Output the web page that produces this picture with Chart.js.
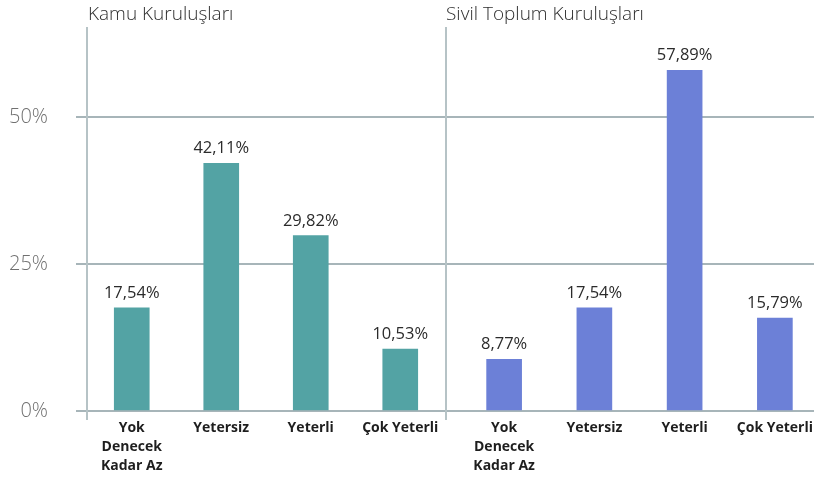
<!DOCTYPE html>
<html>
<head>
<meta charset="utf-8">
<script src="https://cdn.jsdelivr.net/npm/chart.js@4"></script>
<style>
html, body { margin: 0; padding: 0; width: 814px; height: 481px; overflow: hidden; background: #fff; }
#kamu { position: absolute; left: 0; top: 0; }
#stk { position: absolute; left: 445px; top: 0; }
</style>
</head>
<body>
<canvas id="kamu" width="445" height="481"></canvas>
<canvas id="stk" width="375" height="481"></canvas>
<script>
/****************** DATA **********************/

var categories = [["Yok", "Denecek", "Kadar Az"], "Yetersiz", "Yeterli", "Çok Yeterli"];
var kamuValues = [17.54, 42.11, 29.82, 10.53];
var stkValues = [8.77, 17.54, 57.89, 15.79];
var yTicks = [0, 25, 50];
var panelTitles = ["Kamu Kuruluşları", "Sivil Toplum Kuruluşları"];

/****************** STYLE **********************/

var FONT = "'Open Sans', 'Noto Sans', sans-serif";
var GRID = '#a7b5b9';
var FRAME = '#b6c3c6';

Chart.defaults.font.family = FONT;

/** Libelle + ligne verticale du panneau */
var framePlugin = {
    id: 'frame',
    afterDraw: function (chart, args, opts) {
        var ctx = chart.ctx;
        ctx.save();
        ctx.strokeStyle = FRAME;
        ctx.lineWidth = 2;
        ctx.beginPath();
        ctx.moveTo(opts.lineX, 27);
        ctx.lineTo(opts.lineX, 420);
        ctx.stroke();
        ctx.font = "300 19px " + FONT;
        ctx.fillStyle = '#2e2e2e';
        ctx.textAlign = 'left';
        ctx.textBaseline = 'alphabetic';
        ctx.fillText(opts.title, opts.titleX, 20);
        ctx.restore();
    }
};

/** Valeurs au-dessus des barres */
var valuePlugin = {
    id: 'values',
    afterDatasetsDraw: function (chart) {
        var ctx = chart.ctx;
        var ds = chart.data.datasets[0];
        var meta = chart.getDatasetMeta(0);
        ctx.save();
        ctx.font = "16.5px " + FONT;
        ctx.fillStyle = '#2b2b2b';
        ctx.textAlign = 'center';
        ctx.textBaseline = 'alphabetic';
        meta.data.forEach(function (bar, i) {
            var txt = ds.data[i].toFixed(2).replace('.', ',') + '%';
            ctx.fillText(txt, bar.x, bar.y - 10);
        });
        ctx.restore();
    }
};

function makePanel(id, values, color, title, isLeft)
{
    var ctx = document.getElementById(id).getContext('2d');
    return new Chart(ctx, {
        type: 'bar',
        data: {
            labels: categories,
            datasets: [{
                data: values,
                backgroundColor: color,
                barThickness: 35
            }]
        },
        options: {
            responsive: false,
            animation: false,
            layout: { padding: { top: 58, left: 0, right: 0, bottom: 0 } },
            plugins: {
                legend: { display: false },
                tooltip: { enabled: false },
                frame: {
                    title: title,
                    lineX: isLeft ? 87 : 1,
                    titleX: isLeft ? 88 : 1
                }
            },
            scales: {
                x: {
                    grid: { display: false, drawTicks: false },
                    border: { display: false },
                    ticks: {
                        color: '#1e1e1e',
                        padding: 8,
                        maxRotation: 0,
                        autoSkip: false,
                        font: { size: 14, weight: 'bold', lineHeight: 1.35 }
                    },
                    afterFit: function (scale) {
                        scale.height = 70;
                        scale.paddingLeft = 0;
                        scale.paddingRight = 0;
                    }
                },
                y: {
                    min: 0,
                    max: 60,
                    afterBuildTicks: function (scale) {
                        scale.ticks = yTicks.map(function (v) { return { value: v }; });
                    },
                    grid: {
                        color: GRID,
                        lineWidth: 2,
                        tickLength: isLeft ? 11 : 14
                    },
                    border: { display: false },
                    ticks: {
                        display: isLeft,
                        padding: 28,
                        color: '#707070',
                        font: { size: 20, weight: 300 },
                        callback: function (v) { return v + '%'; }
                    },
                    afterFit: function (scale) {
                        scale.width = isLeft ? 87 : 14;
                        scale.paddingTop = 0;
                        scale.paddingBottom = 0;
                    }
                }
            }
        },
        plugins: [framePlugin, valuePlugin]
    });
}

makePanel('kamu', kamuValues, '#53a3a4', panelTitles[0], true);
makePanel('stk', stkValues, '#6c80d7', panelTitles[1], false);
</script>
</body>
</html>
